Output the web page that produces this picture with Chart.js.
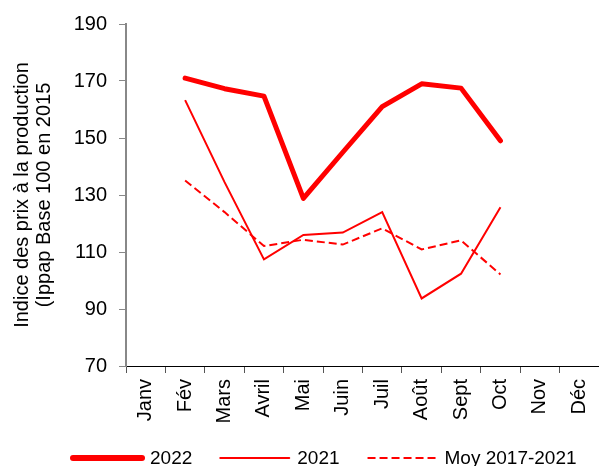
<!DOCTYPE html>
<html>
<head>
<meta charset="utf-8">
<script src="https://cdn.jsdelivr.net/npm/chart.js@4/dist/chart.umd.min.js"></script>
<style>
  html, body { margin: 0; padding: 0; background: #fff; }
  #wrap { width: 599px; height: 466px; }
</style>
</head>
<body>
<div id="wrap"><canvas id="chart" width="599" height="466"></canvas></div>
<script>
const months = ['Janv', 'Fév', 'Mars', 'Avril', 'Mai', 'Juin', 'Juil', 'Août', 'Sept', 'Oct', 'Nov', 'Déc'];
const values2022 = [null, 171, 167.3, 164.7, 128.8, 145, 161, 169, 167.5, 149, null, null];
const values2021 = [null, 163.3, 134.5, 107.4, 116, 116.8, 124, 93.7, 102.4, 125.7, null, null];
const valuesMoy = [null, 135.1, 124, 112.1, 114.3, 112.6, 118.3, 110.9, 114.1, 102.1, null, null];
const yTicks = [70, 90, 110, 130, 150, 170, 190];
const yTitle = ['Indice des prix à la production', '(Ippap Base 100 en 2015'];

const FONT = "'Liberation Sans', Arial, sans-serif";
const RED = '#ff0000';

// legende dessinee a la main (traits longs sous le graphique)
const bottomLegend = {
    id: 'bottomLegend',
    afterDraw(chart) {
        const ctx = chart.ctx;
        const y = 458;
        let x = 73;
        ctx.save();
        ctx.font = '19px ' + FONT;
        ctx.textBaseline = 'middle';
        ctx.fillStyle = '#000';
        chart.data.datasets.forEach(ds => {
            ctx.beginPath();
            ctx.strokeStyle = ds.borderColor;
            ctx.lineWidth = ds.legendWidth;
            ctx.lineCap = ds.borderDash.length ? 'butt' : 'round';
            ctx.setLineDash(ds.borderDash);
            ctx.moveTo(x, y);
            ctx.lineTo(x + 69, y);
            ctx.stroke();
            ctx.setLineDash([]);
            x += 69 + 8;
            ctx.fillText(ds.label, x, y + 1);
            x += ctx.measureText(ds.label).width + 28;
        });
        ctx.restore();
    }
};

new Chart(document.getElementById('chart'), {
    type: 'line',
    data: {
        labels: months,
        datasets: [
            {
                label: '2022',
                data: values2022,
                borderColor: RED,
                borderWidth: 5,
                legendWidth: 6,
                borderDash: [],
                borderCapStyle: 'round',
                borderJoinStyle: 'round',
                pointRadius: 0
            },
            {
                label: '2021',
                data: values2021,
                borderColor: RED,
                borderWidth: 2,
                legendWidth: 2,
                borderDash: [],
                pointRadius: 0
            },
            {
                label: 'Moy 2017-2021',
                data: valuesMoy,
                borderColor: RED,
                borderWidth: 2,
                legendWidth: 2,
                borderDash: [8, 4],
                pointRadius: 0
            }
        ]
    },
    options: {
        responsive: false,
        animation: false,
        layout: { padding: { top: 23, right: 0, left: 0, bottom: 0 } },
        plugins: {
            legend: { display: false },
            tooltip: { enabled: false }
        },
        scales: {
            x: {
                offset: true,
                grid: {
                    display: true,
                    drawOnChartArea: false,
                    drawTicks: true,
                    tickLength: 7,
                    offset: true,
                    color: '#555'
                },
                border: { color: '#000', width: 1 },
                ticks: {
                    autoSkip: false,
                    minRotation: 90,
                    maxRotation: 90,
                    padding: 6,
                    color: '#000',
                    font: { family: FONT, size: 20 }
                },
                afterFit: scale => {
                    scale.height = 100;
                    scale.paddingLeft = 0;
                    scale.paddingRight = 0;
                }
            },
            y: {
                min: 70,
                max: 190,
                afterBuildTicks: scale => { scale.ticks = yTicks.map(v => ({ value: v })); },
                grid: {
                    display: true,
                    drawOnChartArea: false,
                    drawTicks: true,
                    tickLength: 7,
                    color: '#888'
                },
                border: { color: '#888', width: 2 },
                ticks: {
                    padding: 12,
                    color: '#000',
                    font: { family: FONT, size: 20 }
                },
                title: {
                    display: true,
                    text: yTitle,
                    color: '#000',
                    font: { family: FONT, size: 20, lineHeight: 1.1 },
                    padding: { top: 11, bottom: 0 }
                },
                afterFit: scale => { scale.width = 126; }
            }
        }
    },
    plugins: [bottomLegend]
});
</script>
</body>
</html>
